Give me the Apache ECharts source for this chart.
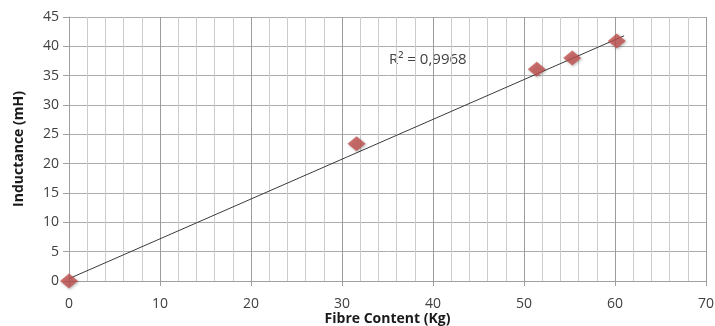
<!DOCTYPE html>
<html><head><meta charset="utf-8">
<script src="https://cdn.jsdelivr.net/npm/echarts@6/dist/echarts.min.js"></script>
<style>html,body{margin:0;padding:0;background:#fff}#c{width:715px;height:326px}</style>
</head><body><div id="c"></div>
<script>
const fibreContent = [0, 31.6, 51.4, 55.3, 60.2];
const inductance = [0, 23.4, 36.1, 38.0, 40.9];
const trendX = [0, 61];
const trendY = [0.4, 41.8];
const r2Label = 'R² = 0,9968';
const xTitle = 'Fibre Content (Kg)';
const yTitle = 'Inductance (mH)';

const chart = echarts.init(document.getElementById('c'));
const font = 'Open Sans';
chart.setOption({
  animation: false,
  grid: { left: 69, right: 9, top: 17, bottom: 45, outerBoundsMode: 'none', containLabel: false },
  xAxis: {
    type: 'value', min: 0, max: 70, interval: 10,
    name: xTitle, nameLocation: 'middle', nameGap: 31, nameMoveOverlap: false,
    nameTextStyle: { fontFamily: font, fontWeight: 'bold', fontSize: 14, color: '#1a1a1a' },
    axisLine: { show: true, lineStyle: { color: '#a0a0a0' } },
    axisTick: { show: true, length: 5, lineStyle: { color: '#a0a0a0' } },
    axisLabel: { fontFamily: font, fontSize: 14, color: '#404040', margin: 16 },
    splitLine: { show: true, lineStyle: { color: '#9c9c9c', width: 1 } },
    minorTick: { show: false, splitNumber: 5 },
    minorSplitLine: { show: true, lineStyle: { color: '#cccccc', width: 1 } }
  },
  yAxis: {
    type: 'value', min: 0, max: 45, interval: 5,
    name: yTitle, nameLocation: 'middle', nameGap: 43, nameMoveOverlap: false,
    nameTextStyle: { fontFamily: font, fontWeight: 'bold', fontSize: 14, color: '#1a1a1a' },
    axisLine: { show: true, lineStyle: { color: '#a0a0a0' } },
    axisTick: { show: true, length: 6, lineStyle: { color: '#a0a0a0' } },
    axisLabel: { fontFamily: font, fontSize: 14, color: '#404040', margin: 10 },
    splitLine: { show: true, lineStyle: { color: '#acacac', width: 1 } }
  },
  series: [
    {
      type: 'line',
      data: trendX.map((x, i) => [x, trendY[i]]),
      showSymbol: false, symbol: 'none',
      lineStyle: { color: '#3a3a3a', width: 1 },
      z: 3
    },
    {
      type: 'scatter',
      data: fibreContent.map((x, i) => [x, inductance[i]]),
      symbol: 'diamond', symbolSize: [18, 15],
      itemStyle: { color: '#c0504d', shadowColor: 'rgba(0,0,0,0.35)', shadowBlur: 3, shadowOffsetX: 1, shadowOffsetY: 1 },
      z: 4
    }
  ],
  graphic: [{
    type: 'text', left: 389, top: 52,
    style: { text: r2Label, fontFamily: font, fontSize: 15, fill: '#404040' }
  }]
});
</script></body></html>
